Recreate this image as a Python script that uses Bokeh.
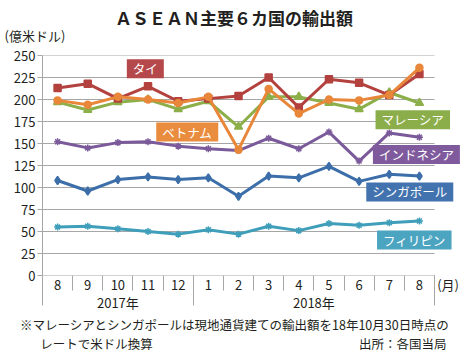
from bokeh.plotting import figure
from bokeh.models import Range1d, FixedTicker, LinearAxis, Label, Title
from bokeh.embed import file_html
from bokeh.resources import INLINE

months = ["8", "9", "10", "11", "12", "1", "2", "3", "4", "5", "6", "7", "8"]
year_labels = ["2017年", "2018年"]
y_ticks = [0, 25, 50, 75, 100, 125, 150, 175, 200, 225, 250]

thai = [213, 218, 201, 215, 198, 201, 204, 225, 191, 223, 219, 205, 229]
vietnam = [199, 194, 203, 200, 196, 203, 143, 212, 184, 200, 199, 205, 236]
malaysia = [197, 188, 197, 200, 189, 198, 169, 203, 203, 196, 189, 208, 196]
indonesia = [152, 145, 151, 152, 147, 144, 142, 156, 144, 163, 130, 162, 157]
singapore = [108, 96, 109, 112, 109, 111, 90, 113, 111, 124, 107, 115, 113]
philippines = [55, 56, 53, 50, 47, 52, 47, 56, 51, 59, 57, 60, 62]

FONT = "Noto Sans CJK JP"
TXT = "#231f20"
GRID = "#a6a6a6"

n = len(months)
x = list(range(n))
lo, hi = -0.5, n - 0.5
STEP = 30.154  # pixels per category

p = figure(frame_width=418, frame_height=220, output_backend="svg", toolbar_location=None,
           x_range=Range1d(lo, lo + 418 / STEP), y_range=Range1d(0, 250),
           min_border_left=42, min_border_right=5, min_border_top=55, min_border_bottom=80,
           outline_line_color=None)
p.background_fill_color = "white"
p.border_fill_color = "white"
p.xgrid.grid_line_color = None
p.ygrid.grid_line_color = None

# horizontal grid lines spanning the categories only
p.segment(x0=[lo] * len(y_ticks), y0=y_ticks, x1=[hi] * len(y_ticks), y1=y_ticks,
          line_color=GRID, line_width=1)

# y axis
p.yaxis.ticker = FixedTicker(ticks=y_ticks)
p.yaxis.major_tick_out = 5
p.yaxis.major_tick_in = 0
p.yaxis.minor_tick_line_color = None
p.yaxis.major_tick_line_color = GRID
p.yaxis.axis_line_color = GRID
p.yaxis.major_label_standoff = 2
p.yaxis.major_label_text_font = FONT
p.yaxis.major_label_text_font_size = "13px"
p.yaxis.major_label_text_color = TXT

# month axis (with the unit "(月)" as an extra label right of the last month)
unit_x = hi + 0.45
xa = p.xaxis[0]
xa.ticker = FixedTicker(ticks=x + [unit_x], minor_ticks=[i - 0.5 for i in range(n + 1)])
ov = {i: m for i, m in enumerate(months)}
ov[unit_x] = "(月)"
xa.major_label_overrides = ov
xa.major_tick_out = 0
xa.major_tick_in = 0
xa.major_tick_line_color = None
xa.minor_tick_out = 15
xa.minor_tick_in = 0
xa.minor_tick_line_color = GRID
xa.axis_line_color = None
xa.major_label_standoff = -16
xa.major_label_text_font = FONT
xa.major_label_text_font_size = "13px"
xa.major_label_text_color = TXT

# year axis
ya = LinearAxis(ticker=FixedTicker(ticks=[2, 8.5], minor_ticks=[lo, 4.5, hi]))
ya.major_label_overrides = {2: year_labels[0], 8.5: year_labels[1]}
ya.axis_line_color = None
ya.major_tick_line_color = None
ya.major_tick_out = 0
ya.major_tick_in = 0
ya.minor_tick_line_color = GRID
ya.minor_tick_in = 21
ya.minor_tick_out = 9
ya.major_label_standoff = -13
ya.major_label_text_font = FONT
ya.major_label_text_font_size = "13px"
ya.major_label_text_color = TXT
p.add_layout(ya, "below")


# text rows outside the frame, placed as labels of bare axes
def text_axis(ticks, texts, standoff, side, size="12.5px", bold=False):
    ax = LinearAxis(ticker=FixedTicker(ticks=ticks, minor_ticks=[]))
    ax.major_label_overrides = dict(zip(ticks, texts))
    ax.axis_line_color = None
    ax.major_tick_line_color = None
    ax.minor_tick_line_color = None
    ax.major_tick_out = 0
    ax.major_tick_in = 0
    ax.minor_tick_out = 0
    ax.minor_tick_in = 0
    ax.major_label_standoff = standoff
    ax.major_label_text_font = FONT
    ax.major_label_text_font_size = size
    ax.major_label_text_font_style = "bold" if bold else "normal"
    ax.major_label_text_color = TXT
    p.add_layout(ax, side)


text_axis([5.87], ["※マレーシアとシンガポールは現地通貨建ての輸出額を18年10月30日時点の"], 0, "below")
text_axis([1.29, 11.45], ["レートで米ドル換算", "出所：各国当局"], -3, "below")

# unit of the value axis (nearest the frame), then the chart title above it
p.add_layout(Title(text="(億米ドル)", align="left", offset=-38, text_font=FONT,
                   text_font_size="13px", text_font_style="normal", text_color=TXT,
                   vertical_align="middle", standoff=19), "above")
text_axis([5.85], ["ＡＳＥＡＮ主要６カ国の輸出額"], -14, "above", size="17px", bold=True)

series = [
    (philippines, "#3f9fba", "asterisk", 7),
    (singapore, "#3c6ea9", "diamond", 8),
    (indonesia, "#7a5a9a", "asterisk", 7),
    (malaysia, "#8caf4a", "triangle", 8),
    (thai, "#b3413e", "square", 7),
    (vietnam, "#e8873a", "circle", 7),
]
for vals, col, mk, sz in series:
    p.line(x, vals, line_color=col, line_width=3)
    p.scatter(x, vals, marker=mk, size=sz, fill_color=col, line_color=col, line_width=1.5)

names = [
    ("タイ", 2.91, 235, "#b5484a"),
    ("ベトナム", 4.30, 163, "#e98c3e"),
    ("マレーシア", 11.78, 177, "#8cae4a"),
    ("インドネシア", 11.9, 137.5, "#7f5a9d"),
    ("シンガポール", 11.68, 95, "#4273ae"),
    ("フィリピン", 11.83, 40.3, "#4ba4c0"),
]
for t, lx, ly, col in names:
    p.add_layout(Label(x=lx, y=ly, text=t, text_align="center", text_baseline="middle",
                       text_font=FONT, text_font_size="12.5px", text_color="white",
                       background_fill_color=col,
                       padding=dict(left=6, right=6, top=0, bottom=0)))

open("out.html", "w").write(file_html(p, INLINE))
